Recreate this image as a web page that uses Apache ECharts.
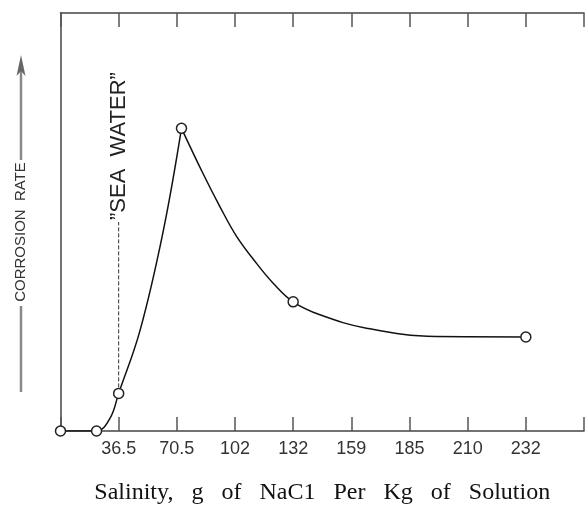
<!DOCTYPE html>
<html>
<head>
<meta charset="utf-8">
<script src="https://cdn.jsdelivr.net/npm/echarts@6/dist/echarts.min.js"></script>
<style>
    html, body { margin: 0; padding: 0; background: #fff; }
    #chart { width: 585px; height: 507px; }
</style>
</head>
<body>
<div id="chart"></div>
<script>
// x positions are in tick-slot units (0 = left frame, 1 = "36.5", 2 = "70.5" ...)
var tickLabels = ['', '36.5', '70.5', '102', '132', '159', '185', '210', '232', ''];

// measured points (circles)
var markerX = [0, 0.62, 1.0, 2.08, 4.0, 8.0];
var markerY = [0, 0, 9.0, 72.4, 30.9, 22.5];

// curve, rising branch up to the peak
var riseX = [0, 0.62, 0.85, 1.0, 1.37, 1.76, 2.08];
var riseY = [0, 0, 3.0, 9.0, 24.2, 47.4, 72.4];

// falling branch from the peak
var fallX = [2.08, 2.45, 2.74, 3.03, 3.37, 3.66, 4.0, 4.46, 5.26, 6.46, 8.0];
var fallY = [72.4, 61.6, 53.7, 46.5, 40.1, 35.3, 30.9, 27.8, 24.6, 22.6, 22.5];

// "sea water" marker line
var seaX = [1.0, 1.0];
var seaY = [9.0, 50.0];

var chart = echarts.init(document.getElementById('chart'));

function pairs(xs, ys) {
    return xs.map(function (x, i) { return [x, ys[i]]; });
}

var axisColor = '#444';
var option = {
    animation: false,
    grid: { left: 60.5, right: 1, top: 13, bottom: 76, containLabel: false, outerBoundsMode: 'none' },
    xAxis: [
        {
            type: 'value',
            position: 'bottom',
            min: 0,
            max: 9,
            interval: 1,
            axisLine: { show: true, lineStyle: { color: axisColor, width: 1.5 } },
            axisTick: { show: true, inside: true, length: 14, lineStyle: { color: '#555', width: 1.5 } },
            splitLine: { show: false },
            axisLabel: {
                margin: 9,
                color: '#333',
                fontFamily: 'Liberation Sans',
                fontSize: 18,
                formatter: function (v) { return tickLabels[Math.round(v)] || ''; }
            },
            name: 'Salinity,   g   of   NaC1   Per   Kg   of   Solution',
            nameLocation: 'middle',
            nameGap: 50,
            nameTextStyle: { color: '#111', fontFamily: 'Liberation Serif', fontSize: 24 }
        },
        {
            type: 'value',
            position: 'top',
            min: 0,
            max: 9,
            interval: 1,
            axisLine: { show: true, lineStyle: { color: axisColor, width: 1.5 } },
            axisTick: { show: true, inside: true, length: 14, lineStyle: { color: '#555', width: 1.5 } },
            splitLine: { show: false },
            axisLabel: { show: false }
        }
    ],
    yAxis: {
        type: 'value',
        min: 0,
        max: 100,
        axisLine: { show: true, lineStyle: { color: axisColor, width: 1.5 } },
        axisTick: { show: false },
        axisLabel: { show: false },
        splitLine: { show: false }
    },
    series: [
        {
            type: 'line',
            data: pairs(riseX, riseY),
            smooth: 0.4,
            showSymbol: false,
            lineStyle: { color: '#111', width: 1.5 },
            z: 2
        },
        {
            type: 'line',
            data: pairs(fallX, fallY),
            smooth: 0.4,
            showSymbol: false,
            lineStyle: { color: '#111', width: 1.5 },
            z: 2
        },
        {
            type: 'line',
            data: pairs(seaX, seaY),
            showSymbol: false,
            lineStyle: { color: '#333', width: 1, type: [4, 2] },
            z: 1
        },
        {
            type: 'scatter',
            data: pairs(markerX, markerY),
            symbol: 'circle',
            symbolSize: 10,
            itemStyle: { color: '#fff', borderColor: '#222', borderWidth: 1.5, opacity: 1 },
            z: 3
        }
    ]
};
chart.setOption(option);

// label at the top of the sea water line
var seaTop = chart.convertToPixel({ gridIndex: 0 }, [seaX[1], seaY[1]]);
chart.setOption({
    graphic: [
        {
            type: 'text',
            x: seaTop[0],
            y: seaTop[1] - 2,
            rotation: Math.PI / 2,
            style: {
                text: '\u201DSEA  WATER\u201D',
                fill: '#222',
                font: '22px "Liberation Sans"',
                align: 'left',
                verticalAlign: 'middle'
            }
        },
        {
            type: 'text',
            x: 21,
            y: 232,
            rotation: Math.PI / 2,
            style: {
                text: 'CORROSION  RATE',
                fill: '#333',
                font: '15px "Liberation Sans"',
                align: 'center',
                verticalAlign: 'middle'
            }
        },
        {
            type: 'line',
            shape: { x1: 21, y1: 392, x2: 21, y2: 306 },
            style: { stroke: '#888', lineWidth: 2.5 }
        },
        {
            type: 'line',
            shape: { x1: 21, y1: 160, x2: 21, y2: 68 },
            style: { stroke: '#888', lineWidth: 2.5 }
        },
        {
            type: 'polygon',
            shape: { points: [[21, 55], [25.5, 76], [21, 71], [16.5, 76]] },
            style: { fill: '#666' }
        }
    ]
});
</script>
</body>
</html>
